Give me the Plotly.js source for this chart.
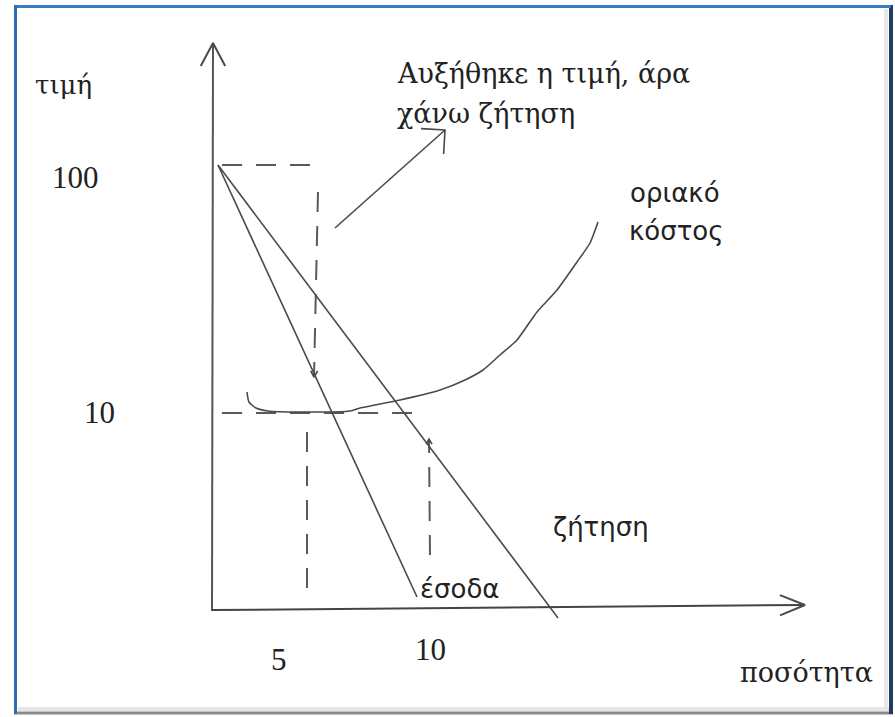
<!DOCTYPE html>
<html><head><meta charset="utf-8">
<script src="https://cdn.plot.ly/plotly-3.0.1.min.js"></script>
<style>html,body{margin:0;padding:0;background:#fff;overflow:hidden}</style>
</head><body><div id="chart" style="width:895px;height:717px"></div>
<script>
// Diagram units: horizontal distance right of the origin, height above the origin.
const demandX = [6, 346];
const demandY = [446, -7];
const revenueX = [6, 205];
const revenueY = [446, 14];
const costX = [35, 37, 44, 56, 88, 138, 148, 188, 228, 253, 271, 288, 305, 325, 345, 365, 378, 386];
const costY = [219, 209, 203, 200, 199, 200, 203, 211, 221, 231, 241, 256, 271, 299, 321, 349, 368, 389];
const priceAxisX = [0, 1];
const priceAxisY = [0, 568];
const qtyAxisX = [0, 593];
const qtyAxisY = [1, 6];
const guideTopX = [10, 106];     const guideTopY = [446, 446];
const guideDownX = [106, 102];   const guideDownY = [419, 234];
const guideLowX = [10, 208];     const guideLowY = [198, 198];
const guideQ5X = [95, 95];       const guideQ5Y = [179, 16];
const guideQ10X = [218, 217];    const guideQ10Y = [56, 172];
const noteArrowX = [123, 233];
const noteArrowY = [383, 481];
const priceTickLabels = ['100', '10'];
const qtyTickLabels = ['5', '10'];
const axisTitles = ['τιμή', 'ποσότητα'];
const noteLines = ['Αυξήθηκε η τιμή, άρα', 'χάνω ζήτηση'];
const curveLabels = ['οριακό', 'κόστος', 'ζήτηση', 'έσοδα'];

const ink = '#4a4a4a';
const digits = 'Liberation Serif, Times New Roman, serif';
const serif = 'DejaVu Serif, serif';
const sans = 'DejaVu Sans, Verdana, sans-serif';

function line(x, y, opts) {
  return Object.assign({type: 'scatter', mode: 'lines', x: x, y: y, hoverinfo: 'skip',
    showlegend: false, line: {color: ink, width: 1.6}}, opts || {});
}
// open chevron arrowhead at the end of a segment
function chevron(xs, ys, len, deg, width) {
  const n = xs.length - 1;
  const dx = xs[n - 1] - xs[n], dy = ys[n - 1] - ys[n];
  const d = Math.hypot(dx, dy), a = deg * Math.PI / 180;
  const ux = dx / d, uy = dy / d;
  const w1 = [xs[n] + len * (ux * Math.cos(a) - uy * Math.sin(a)), ys[n] + len * (ux * Math.sin(a) + uy * Math.cos(a))];
  const w2 = [xs[n] + len * (ux * Math.cos(-a) - uy * Math.sin(-a)), ys[n] + len * (ux * Math.sin(-a) + uy * Math.cos(-a))];
  return line([w1[0], xs[n], w2[0]], [w1[1], ys[n], w2[1]], {line: {color: ink, width: width || 1.6}});
}
const dashed = {line: {color: '#5a5a5a', width: 2, dash: '20px,14px'}};

const traces = [
  line(priceAxisX, priceAxisY, {line: {color: '#555', width: 2}}),
  chevron(priceAxisX, priceAxisY, 26, 28, 2),
  line(qtyAxisX, qtyAxisY, {line: {color: '#444', width: 2}}),
  chevron(qtyAxisX, qtyAxisY, 27, 22, 2),
  line(guideTopX, guideTopY, dashed),
  line(guideDownX, guideDownY, dashed),
  chevron(guideDownX, guideDownY, 7, 30, 1.6),
  line(guideLowX, guideLowY, dashed),
  line(guideQ5X, guideQ5Y, dashed),
  line(guideQ10X, guideQ10Y, dashed),
  chevron(guideQ10X, guideQ10Y, 6, 30, 1.6),
  line(demandX, demandY),
  line(revenueX, revenueY),
  line(costX, costY, {line: {color: ink, width: 1.6, shape: 'spline', smoothing: 0.6}}),
  line(noteArrowX, noteArrowY),
  chevron(noteArrowX, noteArrowY, 24, 45, 1.6)
];

function txt(text, x, y, font, size, anchor) {
  return {text: text, x: x, y: y, xref: 'x', yref: 'y', showarrow: false,
    xanchor: anchor || 'center', yanchor: 'middle',
    font: {family: font, size: size, color: '#222'}};
}
const annotations = [
  txt(axisTitles[0], -149, 526, serif, 26),
  txt(priceTickLabels[0], -137, 434, digits, 31),
  txt(priceTickLabels[1], -113, 199, digits, 31),
  txt(qtyTickLabels[0], 67, -48, digits, 31),
  txt(qtyTickLabels[1], 218, -38, digits, 31),
  txt(axisTitles[1], 594, -61, serif, 27),
  txt(noteLines[0], 183, 538, serif, 27, 'left'),
  txt(noteLines[1], 183, 498, serif, 27, 'left'),
  txt(curveLabels[0], 463, 418, sans, 26),
  txt(curveLabels[1], 464, 380, sans, 26),
  txt(curveLabels[2], 389, 84, sans, 26),
  txt(curveLabels[3], 248, 22, sans, 26)
];

const W = 895, H = 717;
function vline(px, py0, py1, color, w) {
  return {type: 'line', xref: 'paper', yref: 'paper', x0: px / W, x1: px / W,
    y0: 1 - py0 / H, y1: 1 - py1 / H, line: {color: color, width: w}};
}
function hline(py, px0, px1, color, w) {
  return {type: 'line', xref: 'paper', yref: 'paper', x0: px0 / W, x1: px1 / W,
    y0: 1 - py / H, y1: 1 - py / H, line: {color: color, width: w}};
}
const shapes = [
  hline(709, 18, 889, '#e6e6e6', 4),
  vline(886, 9, 711, '#e8e8e8', 4),
  hline(713, 14, 893, '#8a8a8a', 3),
  vline(891, 5, 714, '#1f3d60', 4),
  hline(6.5, 14, 891, '#3a7bc8', 3),
  vline(15.5, 5, 714, '#2f6cb0', 3)
];

const layout = {
  width: W, height: H, margin: {l: 0, r: 0, t: 0, b: 0},
  paper_bgcolor: '#fff', plot_bgcolor: '#fff',
  xaxis: {range: [-212, 683], visible: false, fixedrange: true},
  yaxis: {range: [-106, 611], visible: false, fixedrange: true},
  annotations: annotations, shapes: shapes, showlegend: false
};
Plotly.newPlot('chart', traces, layout, {staticPlot: true, displayModeBar: false});
</script></body></html>
